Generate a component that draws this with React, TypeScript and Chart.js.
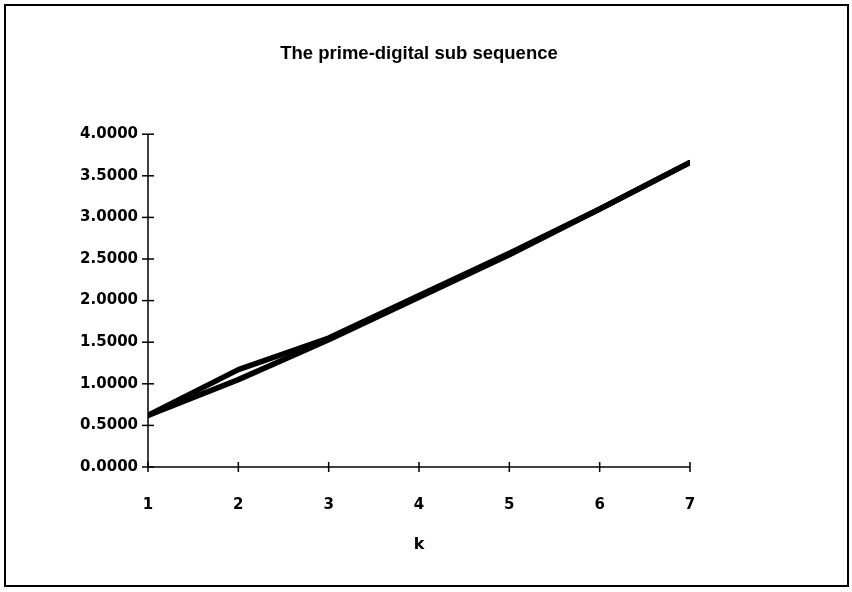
import React, { useEffect, useRef } from "react";
import { Chart, registerables } from "chart.js";

Chart.register(...registerables);

const kValues = [1, 2, 3, 4, 5, 6, 7];
const seriesLower = [0.62, 1.05, 1.53, 2.04, 2.55, 3.1, 3.66];
const seriesUpper = [0.62, 1.17, 1.55, 2.06, 2.57, 3.1, 3.66];
const yMin = 0;
const yMax = 4;
const yStep = 0.5;
const titleText = "The prime-digital sub sequence";
const xTitle = "k";

const framePlugin = {
  id: "frame",
  afterDraw(chart: any) {
    const ctx = chart.ctx;
    const { left, right, top, bottom } = chart.chartArea;
    const xs = chart.scales.x;
    const ys = chart.scales.y;
    ctx.save();
    ctx.strokeStyle = "#000";
    ctx.lineWidth = 2;
    ctx.strokeRect(5, 5, 843, 581);
    ctx.lineWidth = 1.5;
    ctx.beginPath();
    ctx.moveTo(left, top);
    ctx.lineTo(left, bottom);
    ctx.moveTo(left, bottom);
    ctx.lineTo(right, bottom);
    ctx.stroke();
    ys.ticks.forEach((_t: any, i: number) => {
      const py = ys.getPixelForTick(i);
      ctx.beginPath();
      ctx.moveTo(left - 6, py);
      ctx.lineTo(left + 6, py);
      ctx.stroke();
    });
    xs.ticks.forEach((_t: any, i: number) => {
      const px = xs.getPixelForTick(i);
      ctx.beginPath();
      ctx.moveTo(px, bottom - 5);
      ctx.lineTo(px, bottom + 5);
      ctx.stroke();
    });
    ctx.restore();
  },
};

export default function App() {
  const ref = useRef<HTMLCanvasElement | null>(null);
  useEffect(() => {
    if (!ref.current) return;
    const chart = new Chart(ref.current, {
      type: "line",
      data: {
        datasets: [
          {
            label: "upper",
            data: kValues.map((k, i) => ({ x: k, y: seriesUpper[i] })),
            borderColor: "#000",
            borderWidth: 5.5,
            pointRadius: 0,
            tension: 0,
            borderCapStyle: "round",
            borderJoinStyle: "round",
            yAxisID: "y",
          },
          {
            label: "lower",
            data: kValues.map((k, i) => ({ x: k, y: seriesLower[i] })),
            borderColor: "#000",
            borderWidth: 5.5,
            pointRadius: 0,
            tension: 0,
            borderCapStyle: "round",
            borderJoinStyle: "round",
            yAxisID: "y",
          },
        ],
      },
      options: {
        animation: false,
        responsive: false,
        layout: { padding: { top: 0, left: 0, right: 14, bottom: 38 } },
        plugins: {
          legend: { display: false },
          tooltip: { enabled: false },
          title: {
            display: true,
            text: titleText,
            color: "#000",
            font: { family: "'Liberation Sans', Arial, sans-serif", size: 18.5, weight: "bold" },
            padding: { top: 43, bottom: 69 },
          },
        },
        scales: {
          x: {
            type: "linear",
            min: kValues[0],
            max: kValues[kValues.length - 1],
            grid: { display: false },
            border: { display: false },
            ticks: {
              stepSize: 1,
              color: "#000",
              padding: 21,
              font: { family: "'DejaVu Sans', sans-serif", size: 15, weight: "bold" },
            },
            title: {
              display: true,
              text: xTitle,
              color: "#000",
              padding: 0,
              font: { family: "'DejaVu Sans', sans-serif", size: 16, weight: "bold" },
            },
            afterFit(scale: any) {
              scale.height = 87;
            },
          },
          y: {
            type: "linear",
            position: "left",
            min: yMin,
            max: yMax,
            grid: { display: false },
            border: { display: false },
            ticks: {
              stepSize: yStep,
              color: "#000",
              padding: 2,
              font: { family: "'DejaVu Sans', sans-serif", size: 15, weight: "bold" },
              callback: (v: any) => Number(v).toFixed(4),
            },
            afterFit(scale: any) {
              scale.width = 148;
            },
          },
          yRight: {
            type: "linear",
            position: "right",
            display: true,
            grid: { display: false },
            border: { display: false },
            ticks: { display: false },
            afterFit(scale: any) {
              scale.width = 148;
            },
          },
        },
      },
      plugins: [framePlugin],
    });
    return () => chart.destroy();
  }, []);
  return (
    <div style={{ position: "absolute", left: 0, top: 0, width: 852, height: 592, background: "#fff" }}>
      <canvas ref={ref} width={852} height={592} />
    </div>
  );
}
